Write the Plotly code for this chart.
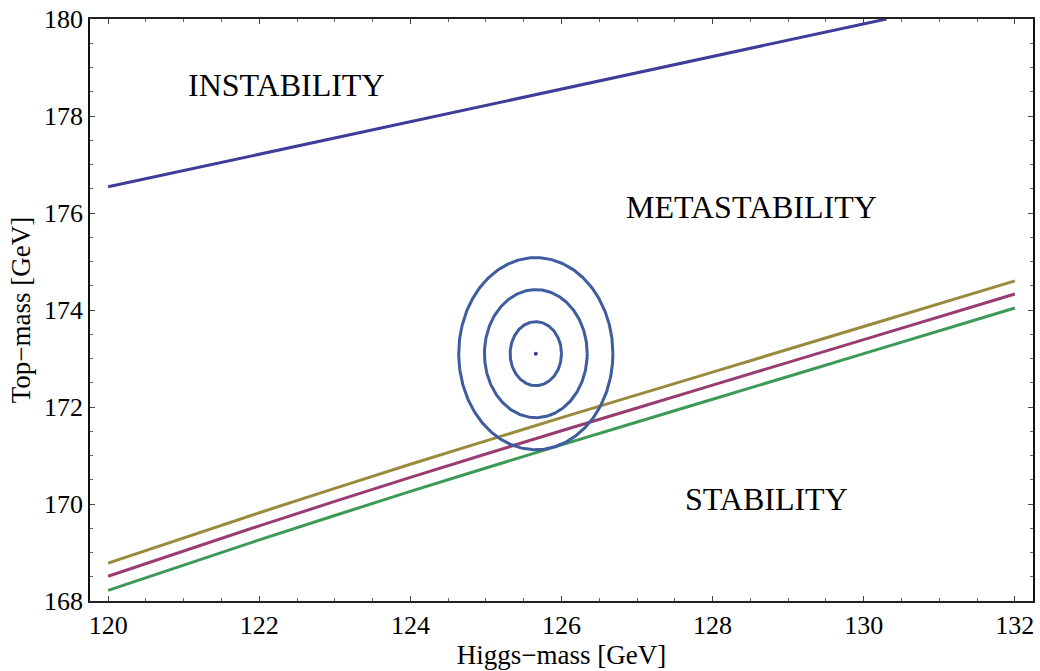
import numpy as np
import plotly.graph_objects as go

# ---- data ----
mh_inst = [120.0, 122.0, 124.0, 126.0, 128.0, 130.3]
mt_inst = [176.54, 177.21, 177.89, 178.56, 179.23, 180.0]

mh_grid = [120, 122, 124, 126, 128, 130, 132]
mt_gold = [168.78, 169.82, 170.82, 171.78, 172.72, 173.66, 174.60]
mt_magenta = [168.51, 169.55, 170.55, 171.51, 172.45, 173.39, 174.33]
mt_green = [168.22, 169.26, 170.26, 171.22, 172.16, 173.10, 174.04]

center_mh = 125.66
center_mt = 173.10
sigma_mh = 0.34
sigma_mt = 0.66
sigma_levels = [1, 2, 3]

region_labels = ["INSTABILITY", "METASTABILITY", "STABILITY"]
region_x = [122.36, 128.51, 128.71]
region_y = [178.64, 176.12, 170.11]

x_ticks = [120, 122, 124, 126, 128, 130, 132]
y_ticks = [168, 170, 172, 174, 176, 178, 180]

# ---- styles ----
C_BLUE = "rgb(63,61,153)"
C_ELL = "rgb(62,92,158)"
C_GOLD = "rgb(153,139,61)"
C_MAG = "rgb(153,61,113)"
C_GREEN = "rgb(61,153,86)"
FONT = "Liberation Serif, Times New Roman, serif"

fig = go.Figure()
fig.add_trace(go.Scatter(x=mh_inst, y=mt_inst, mode="lines",
                         line=dict(color=C_BLUE, width=3), hoverinfo="skip"))
for ys, c in [(mt_gold, C_GOLD), (mt_magenta, C_MAG), (mt_green, C_GREEN)]:
    fig.add_trace(go.Scatter(x=mh_grid, y=ys, mode="lines",
                             line=dict(color=c, width=3, shape="spline", smoothing=0.6),
                             hoverinfo="skip"))

t = np.linspace(0, 2 * np.pi, 300)
for k in sigma_levels:
    fig.add_trace(go.Scatter(x=center_mh + k * sigma_mh * np.cos(t),
                             y=center_mt + k * sigma_mt * np.sin(t),
                             mode="lines", line=dict(color=C_ELL, width=3),
                             hoverinfo="skip"))
fig.add_trace(go.Scatter(x=[center_mh], y=[center_mt], mode="markers",
                         marker=dict(color=C_BLUE, size=4), hoverinfo="skip"))

for txt, xx, yy in zip(region_labels, region_x, region_y):
    fig.add_annotation(x=xx, y=yy, text=txt, showarrow=False,
                       font=dict(family=FONT, size=32, color="black"))

axis_common = dict(showgrid=False, zeroline=False, ticks="inside", ticklen=5,
                   tickwidth=1, tickcolor="#444", showline=True, linewidth=1.5,
                   mirror="allticks",
                   tickfont=dict(family=FONT, size=26, color="black"),
                   title_font=dict(family=FONT, size=27, color="black"),
                   minor=dict(ticks="inside", ticklen=3, dtick=0.5,
                              tickcolor="#666", showgrid=False))

fig.update_layout(
    width=1040, height=671,
    margin=dict(l=90, r=5, t=16, b=70),
    paper_bgcolor="white", plot_bgcolor="white",
    showlegend=False,
    xaxis=dict(range=[119.76, 132.24], tickvals=x_ticks, linecolor="#222",
               title=dict(text="Higgs\u2212mass [GeV]", standoff=6), **axis_common),
    yaxis=dict(range=[168, 180], tickvals=y_ticks, linecolor="#111",
               title=dict(text="Top\u2212mass [GeV]", standoff=6), **axis_common),
)

fig.write_html("out.html")
